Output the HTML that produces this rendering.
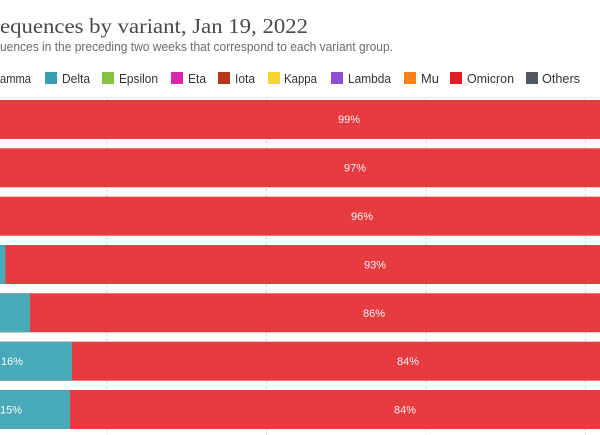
<!DOCTYPE html>
<html>
<head>
<meta charset="utf-8">
<style>
  html, body { margin: 0; padding: 0; background: #ffffff; }
  body { width: 600px; height: 435px; overflow: hidden; }
  svg { display: block; }
</style>
</head>
<body>
<svg width="600" height="435" viewBox="0 0 600 435" xmlns="http://www.w3.org/2000/svg">
  <rect x="0" y="0" width="600" height="435" fill="#ffffff"/>

  <!-- Title -->
  <text x="0" y="33" font-family="Liberation Serif, serif" font-size="21" fill="#4a4a4a" textLength="308" lengthAdjust="spacingAndGlyphs">equences by variant, Jan 19, 2022</text>
  <!-- Subtitle -->
  <text x="0" y="51" font-family="Liberation Sans, sans-serif" font-size="12.5" fill="#6b6b6b" textLength="393" lengthAdjust="spacingAndGlyphs">uences in the preceding two weeks that correspond to each variant group.</text>

  <!-- Legend -->
  <g font-family="Liberation Sans, sans-serif" font-size="12.5" fill="#333333">
    <text x="0" y="83" textLength="31" lengthAdjust="spacingAndGlyphs">amma</text>
    <rect x="45" y="72" width="12" height="12" fill="#3a9fb2"/>
    <text x="62" y="83" textLength="28" lengthAdjust="spacingAndGlyphs">Delta</text>
    <rect x="102" y="72" width="12" height="12" fill="#86c13f"/>
    <text x="119" y="83" textLength="39" lengthAdjust="spacingAndGlyphs">Epsilon</text>
    <rect x="171" y="72" width="12" height="12" fill="#d52aae"/>
    <text x="188" y="83" textLength="18" lengthAdjust="spacingAndGlyphs">Eta</text>
    <rect x="218" y="72" width="12" height="12" fill="#b8371a"/>
    <text x="235" y="83" textLength="20" lengthAdjust="spacingAndGlyphs">Iota</text>
    <rect x="268" y="72" width="12" height="12" fill="#f6d531"/>
    <text x="284" y="83" textLength="33" lengthAdjust="spacingAndGlyphs">Kappa</text>
    <rect x="331" y="72" width="12" height="12" fill="#8e4fd4"/>
    <text x="348" y="83" textLength="43" lengthAdjust="spacingAndGlyphs">Lambda</text>
    <rect x="404" y="72" width="12" height="12" fill="#f5821f"/>
    <text x="421" y="83" textLength="18" lengthAdjust="spacingAndGlyphs">Mu</text>
    <rect x="450" y="72" width="12" height="12" fill="#df1f26"/>
    <text x="467" y="83" textLength="47" lengthAdjust="spacingAndGlyphs">Omicron</text>
    <rect x="526" y="72" width="12" height="12" fill="#545860"/>
    <text x="542" y="83" textLength="38" lengthAdjust="spacingAndGlyphs">Others</text>
  </g>

  <!-- faint separator -->
  <rect x="0" y="97" width="600" height="1" fill="#fcefe2"/>

  <!-- gridlines -->
  <g stroke="#d6d6d6" stroke-width="1" stroke-dasharray="3,3">
    <line x1="107" y1="98" x2="107" y2="435"/>
    <line x1="266.5" y1="98" x2="266.5" y2="435"/>
    <line x1="426" y1="98" x2="426" y2="435"/>
    <line x1="585.5" y1="98" x2="585.5" y2="435"/>
  </g>

  <!-- Bars -->
  <g>
    <rect x="0" y="100" width="600" height="39" fill="#e63b3f"/>
    <rect x="0" y="148.3" width="600" height="39" fill="#e63b3f"/>
    <rect x="0" y="196.7" width="600" height="39" fill="#e63b3f"/>
    <rect x="0" y="245" width="600" height="39" fill="#e63b3f"/>
    <rect x="0" y="245" width="5.5" height="39" fill="#4aa9b9"/>
    <rect x="0" y="293.3" width="600" height="39" fill="#e63b3f"/>
    <rect x="0" y="293.3" width="30" height="39" fill="#4aa9b9"/>
    <rect x="0" y="341.7" width="600" height="39" fill="#e63b3f"/>
    <rect x="0" y="341.7" width="72" height="39" fill="#4aa9b9"/>
    <rect x="0" y="390" width="600" height="39" fill="#e63b3f"/>
    <rect x="0" y="390" width="70" height="39" fill="#4aa9b9"/>
  </g>

  <!-- Labels -->
  <g font-family="Liberation Sans, sans-serif" font-size="11" fill="#fff3f3" text-anchor="middle">
    <text x="349" y="123">99%</text>
    <text x="355" y="171.5">97%</text>
    <text x="362" y="220">96%</text>
    <text x="375" y="268.5">93%</text>
    <text x="374" y="317">86%</text>
    <text x="408" y="365">84%</text>
    <text x="405" y="413.5">84%</text>
  </g>
  <g font-family="Liberation Sans, sans-serif" font-size="11" fill="#f3fbfc">
    <text x="1" y="365">16%</text>
    <text x="0" y="413.5">15%</text>
  </g>
</svg>
</body>
</html>
